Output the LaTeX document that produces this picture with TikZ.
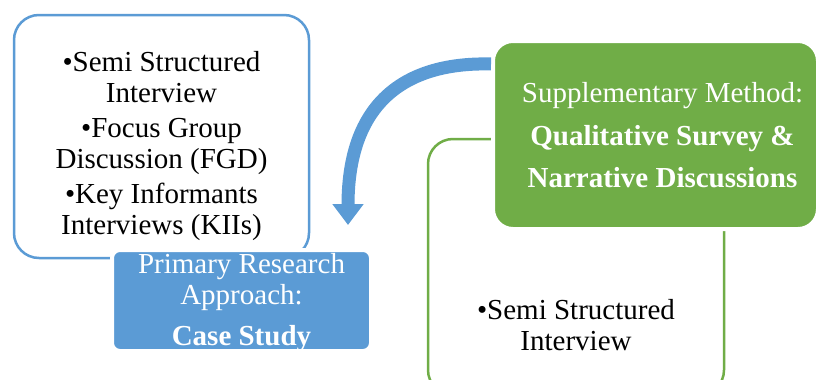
\documentclass[tikz,border=0pt]{standalone}
\usepackage{fontspec}
\setmainfont{Liberation Serif}
\usetikzlibrary{calc}
\usetikzlibrary{arrows.meta}
\definecolor{methblue}{HTML}{5B9BD5}
\definecolor{methgreen}{HTML}{70AD47}
\newcommand\bigtext[0]{\fontsize{29}{31}\selectfont}

\begin{document}
\begin{tikzpicture}[x=1pt,y=-1pt,
  outlinebox/.style={line width=2.5pt, rounded corners=25pt, fill=white, inner sep=0pt},
  filledbox/.style={draw=white, line width=4pt, inner sep=0pt},
  boxtext/.style={align=center, inner sep=0pt, font=\bigtext}]

\useasboundingbox (0,0) rectangle (819,380);

% outline boxes with the methods
\node[outlinebox, draw=methblue, minimum width=295pt, minimum height=243pt] (primList) at (161.5,136.5) {};
\node[outlinebox, draw=methgreen, minimum width=296pt, minimum height=256pt] (suppList) at (576,267) {};

% filled boxes
\node[filledbox, fill=methgreen, rounded corners=20pt, minimum width=325pt, minimum height=188pt] (supp) at (655.5,135) {};
\node[filledbox, fill=methblue, rounded corners=8pt, minimum width=259pt, minimum height=101pt] (prim) at (241.5,300.5) {};

% texts
\node[boxtext] (primListText) at (161.5,146) {\textbullet Semi Structured\\Interview\\[4pt]\textbullet Focus Group\\Discussion (FGD)\\[4pt]\textbullet Key Informants\\Interviews (KIIs)};
\node[boxtext, white, yshift=-2pt] (primText) at (prim) {Primary Research\\Approach:\\[10pt]\textbf{Case Study}};
\node[boxtext, white, xshift=7pt] (suppText) at (supp) {Supplementary Method:\\[12pt]\textbf{Qualitative Survey \&}\\[11pt]\textbf{Narrative Discussions}};
\node[boxtext] (suppListText) at (576,325) {\textbullet Semi Structured\\Interview};

% curved arrow
\coordinate (arrowStart) at ($(supp.north west)+(0,25)$);
\coordinate (arrowTip) at ($(prim.north east)+(-25,-23)$);
\draw[methblue, line width=13pt, -{Triangle[width=30pt,length=21pt]}] (arrowStart) .. controls (410,62) and ($(arrowTip)+(0,-127)$) .. (arrowTip);

\end{tikzpicture}
\end{document}
